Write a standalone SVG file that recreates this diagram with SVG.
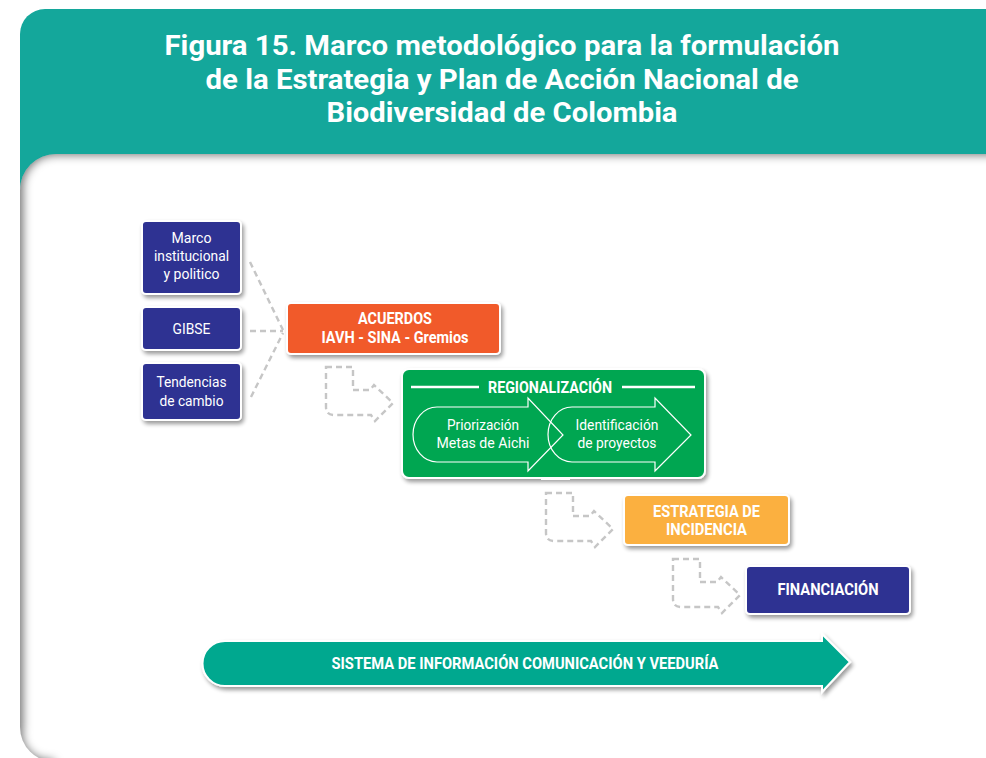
<svg xmlns="http://www.w3.org/2000/svg" width="986" height="758" viewBox="0 0 986 758">
<style>
.title{font-family:Roboto,"Liberation Sans",sans-serif;font-weight:bold;font-size:27px;fill:#fff;text-anchor:middle}
.t{font-family:Roboto,"Liberation Sans",sans-serif;font-size:15.5px;fill:#fff;text-anchor:middle}
.b{font-family:Roboto,"Liberation Sans",sans-serif;font-weight:bold;font-size:16px;fill:#fff;text-anchor:middle}
.box{stroke:#fff;stroke-width:2;filter:url(#ds)}
.blue{fill:#2e3192}
.dash{fill:none;stroke:#c6c6c6;stroke-width:2.4;stroke-dasharray:6 4}
.inarrow{fill:none;stroke:#fff;stroke-width:1.2}
</style>
<defs>
<filter id="ds" x="-20%" y="-20%" width="140%" height="160%">
<feGaussianBlur in="SourceAlpha" stdDeviation="2.2"/>
<feOffset dx="2" dy="3" result="o"/>
<feComponentTransfer><feFuncA type="linear" slope="0.4"/></feComponentTransfer>
<feMerge><feMergeNode/><feMergeNode in="SourceGraphic"/></feMerge>
</filter>
<filter id="blur" x="-10%" y="-10%" width="120%" height="120%">
<feGaussianBlur stdDeviation="5"/>
</filter>
<clipPath id="panelClip">
<path d="M56,154 H1000 V762 H55 A35,35 0 0 1 20,727 V190 A36,36 0 0 1 56,154 Z"/>
</clipPath>
<path id="bent" d="M0,0 H27 V23 H44 L48,18 L67,36 L49,54 L45,48 H8 Q0,48 0,40 Z"/>
</defs>

<g id="frame">
<rect x="20" y="9" width="990" height="200" rx="25" fill="#14a79b"/>
<path d="M56,154 H1000 V762 H55 A35,35 0 0 1 20,727 V190 A36,36 0 0 1 56,154 Z" fill="#fff"/>
<g clip-path="url(#panelClip)">
<path d="M55,768 A35,35 0 0 1 14,727 V190 A42,42 0 0 1 56,146 H1000" fill="none" stroke="#000" stroke-opacity="0.55" stroke-width="18" filter="url(#blur)"/>
</g>
</g>

<g id="title">
<text class="title" x="502" y="55" textLength="675" lengthAdjust="spacingAndGlyphs">Figura 15. Marco metodológico para la formulación</text>
<text class="title" x="502" y="89" textLength="593" lengthAdjust="spacingAndGlyphs">de la Estrategia y Plan de Acción Nacional de</text>
<text class="title" x="502" y="122" textLength="351" lengthAdjust="spacingAndGlyphs">Biodiversidad de Colombia</text>
</g>

<g id="connectors">
<path class="dash" d="M250,262 L283,330"/>
<path class="dash" d="M250,331 L283,331"/>
<path class="dash" d="M251,397 L283,333"/>
<use href="#bent" class="dash" transform="translate(326,367)"/>
<use href="#bent" class="dash" transform="translate(546,493)"/>
<use href="#bent" class="dash" transform="translate(673,559)"/>
</g>

<g id="marco">
<rect class="box blue" x="142" y="221" width="99" height="73" rx="4"/>
<text class="t" x="191.5" y="242.5" textLength="40" lengthAdjust="spacingAndGlyphs">Marco</text>
<text class="t" x="191.5" y="260.5" textLength="75" lengthAdjust="spacingAndGlyphs">institucional</text>
<text class="t" x="191.5" y="278.5" textLength="56" lengthAdjust="spacingAndGlyphs">y politico</text>
</g>

<g id="gibse">
<rect class="box blue" x="142" y="307" width="99" height="43" rx="4"/>
<text class="t" x="191.5" y="333.5" textLength="38" lengthAdjust="spacingAndGlyphs">GIBSE</text>
</g>

<g id="tendencias">
<rect class="box blue" x="142" y="363" width="99" height="57" rx="4"/>
<text class="t" x="191.5" y="386.5" textLength="70" lengthAdjust="spacingAndGlyphs">Tendencias</text>
<text class="t" x="191.5" y="405.5" textLength="64" lengthAdjust="spacingAndGlyphs">de cambio</text>
</g>

<g id="acuerdos">
<rect class="box" x="287" y="303" width="213" height="51" rx="4" fill="#f15a2b"/>
<text class="b" x="395" y="324" textLength="74" lengthAdjust="spacingAndGlyphs">ACUERDOS</text>
<text class="b" x="395" y="343" textLength="147" lengthAdjust="spacingAndGlyphs">IAVH - SINA - Gremios</text>
</g>

<g id="regionalizacion">
<rect class="box" x="402" y="369" width="303" height="109" rx="7" fill="#00a651"/>
<rect x="541" y="477" width="29" height="3" fill="#fff"/>
<line x1="411" y1="387" x2="479" y2="387" stroke="#fff" stroke-width="2.5"/>
<line x1="622" y1="387" x2="695" y2="387" stroke="#fff" stroke-width="2.5"/>
<text class="b" x="550" y="392.5" textLength="124" lengthAdjust="spacingAndGlyphs">REGIONALIZACIÓN</text>
<path fill="#00a651" d="M572,407 H655 V398 L691,435 L655,471 V462 H572 A24,27.5 0 0 1 572,407 Z"/>
<path fill="#00a651" d="M437,407 H528 V398 L563,435 L528,471 V462 H437 A24,27.5 0 0 1 437,407 Z"/>
<path class="inarrow" d="M572,407 H655 V398 L691,435 L655,471 V462 H572 A24,27.5 0 0 1 572,407 Z"/>
<path class="inarrow" d="M437,407 H528 V398 L563,435 L528,471 V462 H437 A24,27.5 0 0 1 437,407 Z"/>
<text class="t" x="483" y="429.5" textLength="72" lengthAdjust="spacingAndGlyphs">Priorización</text>
<text class="t" x="483" y="447.5" textLength="93" lengthAdjust="spacingAndGlyphs">Metas de Aichi</text>
<text class="t" x="617" y="429.5" textLength="83" lengthAdjust="spacingAndGlyphs">Identificación</text>
<text class="t" x="617" y="447.5" textLength="79" lengthAdjust="spacingAndGlyphs">de proyectos</text>
</g>

<g id="estrategia">
<rect class="box" x="624" y="495" width="165" height="50" rx="4" fill="#fbb040"/>
<text class="b" x="706.5" y="516.5" textLength="107" lengthAdjust="spacingAndGlyphs">ESTRATEGIA DE</text>
<text class="b" x="706.5" y="534.5" textLength="81" lengthAdjust="spacingAndGlyphs">INCIDENCIA</text>
</g>

<g id="financiacion">
<rect class="box blue" x="746" y="566" width="164" height="48" rx="4"/>
<text class="b" x="828" y="595" textLength="101" lengthAdjust="spacingAndGlyphs">FINANCIACIÓN</text>
</g>

<g id="sistema">
<path class="box" fill="#00a88f" stroke-width="1.5" d="M225,641 H822 V634 L850,662 L822,692 V686 H225 A22.5,22.5 0 0 1 225,641 Z"/>
<text class="b" x="525" y="668.5" textLength="387" lengthAdjust="spacingAndGlyphs">SISTEMA DE INFORMACIÓN COMUNICACIÓN Y VEEDURÍA</text>
</g>
</svg>
